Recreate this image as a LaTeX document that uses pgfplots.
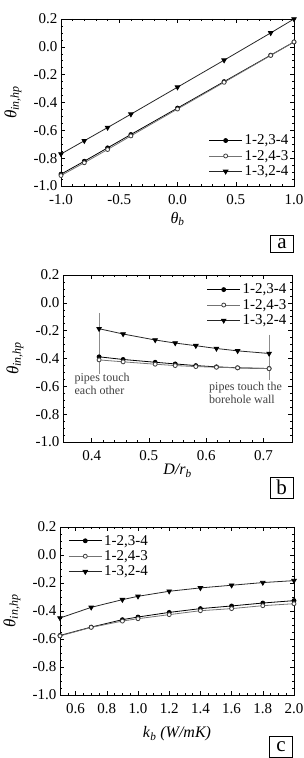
\documentclass[border=0pt]{standalone}
\usepackage{fontspec}
\setmainfont{Liberation Serif}
\usepackage{pgfplots}
\pgfplotsset{compat=1.18}

\pgfplotsset{
  panel/.style={
    scale only axis,
    anchor=south west,
    ymin=-1.0, ymax=0.2,
    ytick={-1.0,-0.8,-0.6,-0.4,-0.2,0.0,0.2},
    yticklabels={-1.0,-0.8,-0.6,-0.4,-0.2,0.0,0.2},
    minor y tick num=3,
    tick align=inside,
    major tick length=4pt, minor tick length=2pt,
    tick style={black, line width=0.5pt},
    axis line style={line width=0.7pt},
    ticklabel style={font=\fontsize{15}{17}\selectfont},
    xticklabel style={yshift=-5pt},
    label style={font=\fontsize{16}{18}\selectfont},
    ylabel={\fontsize{17}{19}\selectfont\textit{θ}\textsubscript{\textit{in,hp}}},
    ylabel style={at={(axis description cs:0,0.5)}, anchor=center, yshift=48pt, inner sep=0pt},
    legend style={draw=none, fill=none, font=\fontsize{15}{17}\selectfont, inner sep=0pt},
    legend cell align=left,
    legend image code/.code={\draw[mark repeat=2,mark phase=2] plot coordinates {(0pt,0pt) (16.5pt,0pt) (33pt,0pt)};},
  },
  s1/.style={black, line width=0.8pt, mark=*, mark size=2pt, mark options={fill=black, solid}},
  s2/.style={black!55, line width=0.8pt, mark=*, mark size=2pt, mark options={fill=white, draw=black!75}},
  s3/.style={black!85, line width=0.8pt, mark=triangle*, mark size=2.6pt, mark options={rotate=180, fill=black, draw=black}},
}

\begin{document}
\begin{tikzpicture}[x=1pt,y=1pt]
\useasboundingbox (0,0) rectangle (304,758);

% ---------------- panel a ----------------
\begin{axis}[panel, at={(61pt,572pt)}, width=233pt, height=167pt,
  xmin=-1, xmax=1,
  xtick={-1,-0.5,0,0.5,1}, xticklabels={-1.0,-0.5,0.0,0.5,1.0},
  minor x tick num=4,
  xlabel={\textit{θ}\textsubscript{\textit{b}}},
  xlabel style={at={(axis description cs:0.5,0)}, anchor=center, yshift=-33pt},
  legend style={at={(rel axis cs:0.985,0.04)}, anchor=south east}]
\addplot[s1] coordinates {(-1,-0.915) (-0.8,-0.822) (-0.6,-0.726) (-0.4,-0.630) (0,-0.440) (0.4,-0.250) (0.8,-0.060) (1.0,0.035)};
\addlegendentry{1-2,3-4}
\addplot[s2] coordinates {(-1,-0.925) (-0.8,-0.833) (-0.6,-0.738) (-0.4,-0.640) (0,-0.447) (0.4,-0.255) (0.8,-0.062) (1.0,0.035)};
\addlegendentry{1-2,4-3}
\addplot[s3] coordinates {(-1,-0.770) (-0.8,-0.675) (-0.6,-0.580) (-0.4,-0.484) (0,-0.290) (0.4,-0.096) (0.8,0.100) (1.0,0.200)};
\addlegendentry{1-3,2-4}
\end{axis}
\node[draw, line width=0.6pt, inner sep=1pt, font=\fontsize{21}{21}\selectfont, minimum width=23pt, minimum height=17pt] at (282,514.5) {a};

% ---------------- panel b ----------------
\begin{axis}[panel, at={(63pt,316pt)}, width=229pt, height=167pt,
  xmin=0.35, xmax=0.75,
  xtick={0.4,0.5,0.6,0.7}, xticklabels={0.4,0.5,0.6,0.7},
  minor x tick num=4,
  xlabel={\textit{D/r}\textsubscript{\textit{b}}},
  xlabel style={at={(axis description cs:0.5,0)}, anchor=center, yshift=-29pt},
  legend style={at={(rel axis cs:0.985,0.96)}, anchor=north east}]
\addplot[s1] coordinates {(0.413,-0.388) (0.455,-0.407) (0.511,-0.427) (0.546,-0.439) (0.582,-0.451) (0.618,-0.460) (0.655,-0.467) (0.710,-0.472)};
\addlegendentry{1-2,3-4}
\addplot[s2] coordinates {(0.413,-0.410) (0.455,-0.424) (0.511,-0.441) (0.546,-0.451) (0.582,-0.458) (0.618,-0.463) (0.655,-0.467) (0.710,-0.473)};
\addlegendentry{1-2,4-3}
\addplot[s3] coordinates {(0.413,-0.186) (0.455,-0.224) (0.511,-0.267) (0.546,-0.289) (0.582,-0.308) (0.618,-0.328) (0.655,-0.345) (0.710,-0.364)};
\addlegendentry{1-3,2-4}
\addplot[black!45, line width=0.5pt, forget plot] coordinates {(0.413,-0.072) (0.413,-0.508)};
\addplot[black!45, line width=0.5pt, forget plot] coordinates {(0.710,-0.229) (0.710,-0.557)};
\node[anchor=north west, align=left, inner sep=0pt, text=black!75, font=\fontsize{12}{13}\selectfont] at (axis cs:0.370,-0.505) {pipes touch\\each other};
\node[anchor=north west, align=left, inner sep=0pt, text=black!75, font=\fontsize{12}{13}\selectfont] at (axis cs:0.605,-0.570) {pipes touch the\\borehole wall};
\end{axis}
\node[draw, line width=0.6pt, inner sep=1pt, font=\fontsize{21}{21}\selectfont, minimum width=23pt, minimum height=21pt] at (281.5,270.5) {b};

% ---------------- panel c ----------------
\begin{axis}[panel, at={(60pt,63pt)}, width=234pt, height=168pt,
  xmin=0.5, xmax=2.0,
  xtick={0.6,0.8,1.0,1.2,1.4,1.6,1.8,2.0}, xticklabels={0.6,0.8,1.0,1.2,1.4,1.6,1.8,2.0},
  minor x tick num=3,
  extra x ticks={0.5,0.55}, extra x tick labels={}, extra x tick style={major tick length=2pt},
  xlabel={\textit{k}\textsubscript{\textit{b}} \textit{(W/mK)}},
  xlabel style={at={(axis description cs:0.5,0)}, anchor=center, yshift=-39pt},
  legend style={at={(rel axis cs:0.035,0.965)}, anchor=north west}]
\addplot[s1] coordinates {(0.5,-0.575) (0.7,-0.515) (0.9,-0.462) (1.0,-0.443) (1.2,-0.410) (1.4,-0.383) (1.6,-0.364) (1.8,-0.343) (2.0,-0.326)};
\addlegendentry{1-2,3-4}
\addplot[s2] coordinates {(0.5,-0.578) (0.7,-0.517) (0.9,-0.472) (1.0,-0.455) (1.2,-0.426) (1.4,-0.398) (1.6,-0.383) (1.8,-0.362) (2.0,-0.348)};
\addlegendentry{1-2,4-3}
\addplot[s3] coordinates {(0.5,-0.450) (0.7,-0.374) (0.9,-0.319) (1.0,-0.295) (1.2,-0.259) (1.4,-0.235) (1.6,-0.216) (1.8,-0.197) (2.0,-0.183)};
\addlegendentry{1-3,2-4}
\end{axis}
\node[draw, line width=0.6pt, inner sep=1pt, font=\fontsize{21}{21}\selectfont, minimum width=23pt, minimum height=21pt] at (281,11) {c};
\end{tikzpicture}
\end{document}
